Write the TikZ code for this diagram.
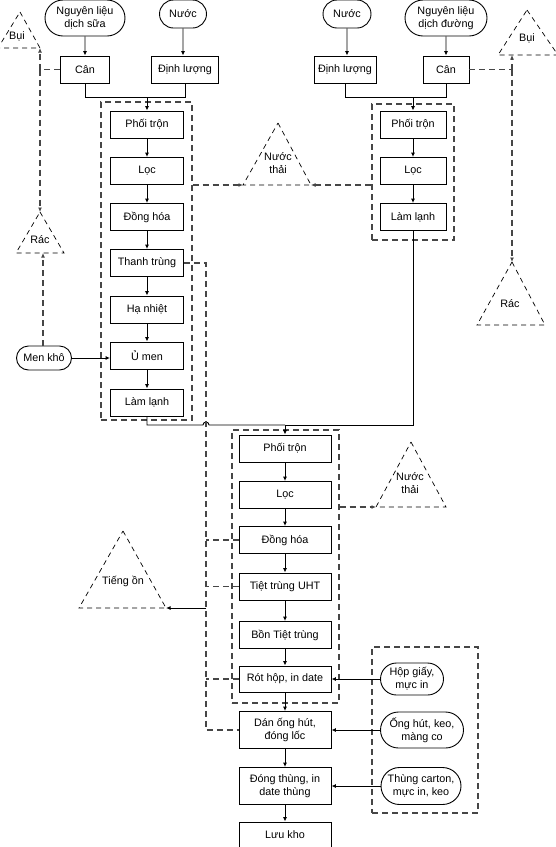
\documentclass[tikz,border=0pt]{standalone}
\usepackage{fontspec}
\setmainfont{Liberation Sans}
\usepackage{xcolor}
\definecolor{flgray}{RGB}{70,70,70}
\usetikzlibrary{arrows.meta, shapes.misc, calc}

\tikzset{
  proc/.style={draw, rectangle, line width=0.9pt, minimum width=73pt, minimum height=27pt, inner sep=1pt, align=center},
  term/.style={draw, rounded rectangle, line width=0.9pt, inner sep=1pt, align=center},
  grp/.style={draw=flgray, line width=1.2pt, dash pattern=on 6pt off 4pt, inner sep=0pt},
  waste/.style={line width=0.7pt, dash pattern=on 5pt off 4pt},
  flow/.style={-{Latex[length=4.5pt,width=4pt]}, line width=0.9pt},
  dflow/.style={flgray, line width=1.2pt, dash pattern=on 6pt off 4pt},
  dflowa/.style={dflow, -{Latex[length=4.5pt,width=4pt]}}
}

\begin{document}
\begin{tikzpicture}[x=1pt, y=-1pt, font=\fontsize{10.8}{13}\selectfont]
  \useasboundingbox (0,0) rectangle (556,847);

  % Group boxes
  \node[grp, minimum width=91pt,  minimum height=318pt] (g1) at (146.5,261) {};
  \node[grp, minimum width=82pt,  minimum height=136pt] (g2) at (413,172) {};
  \node[grp, minimum width=107pt, minimum height=273pt] (g3) at (285.5,566.5) {};
  \node[grp, minimum width=106pt, minimum height=166pt] (g4) at (425,730) {};

  % --- Milk line (left) ---
  \node[term, minimum width=82pt, minimum height=36pt] (srcsua) at (85,18) {Nguyên liệu\\dịch sữa};
  \node[term, minimum width=49pt, minimum height=28pt] (nuoc1) at (183,14) {Nước};
  \node[proc, minimum width=49pt] (can1) at (85,69.5) {Cân};
  \node[proc, minimum width=67pt] (dl1) at (185,69.5) {Định lượng};
  \node[proc] (ptron1) at (147,124.5) {Phối trộn};
  \node[proc] (loc1) at (147,171) {Lọc};
  \node[proc] (dh1) at (147,217) {Đồng hóa};
  \node[proc] (tt1) at (147,263) {Thanh trùng};
  \node[proc] (hn1) at (147,309.5) {Hạ nhiệt};
  \node[proc] (umen) at (147,355.5) {Ủ men};
  \node[proc] (ll1) at (147,402.5) {Làm lạnh};
  \node[term, minimum width=57pt, minimum height=24pt] (menkho) at (44,358) {Men khô};
  \coordinate (jn1) at (147,97);

  % --- Sugar line (right) ---
  \node[term, minimum width=50pt, minimum height=28pt] (nuoc2) at (347,14) {Nước};
  \node[term, minimum width=84pt, minimum height=36pt] (srcduong) at (446,18) {Nguyên liệu\\dịch đường};
  \node[proc, minimum width=62pt] (dl2) at (345,69.5) {Định lượng};
  \node[proc, minimum width=46pt] (can2) at (446,69.5) {Cân};
  \node[proc, minimum width=66pt] (ptron2) at (413,124.5) {Phối trộn};
  \node[proc, minimum width=66pt] (loc2) at (413,171) {Lọc};
  \node[proc, minimum width=66pt] (ll2) at (413,217) {Làm lạnh};
  \coordinate (jn2) at (413,97);

  % --- Main line (bottom) ---
  \node[proc, minimum width=92pt] (ptron3) at (285,448.5) {Phối trộn};
  \node[proc, minimum width=92pt] (loc3) at (285,495) {Lọc};
  \node[proc, minimum width=92pt] (dh3) at (285,540) {Đồng hóa};
  \node[proc, minimum width=92pt] (uht) at (285,586.5) {Tiệt trùng UHT};
  \node[proc, minimum width=92pt] (bon) at (285,635) {Bồn Tiệt trùng};
  \node[proc, minimum width=92pt, minimum height=26pt] (rot) at (285,679) {Rót hộp, in date};
  \node[proc, minimum width=92pt, minimum height=37pt] (dan) at (285,730) {Dán ống hút,\\đóng lốc};
  \node[proc, minimum width=92pt, minimum height=37pt] (dong) at (285,786) {Đóng thùng, in\\date thùng};
  \node[proc, minimum width=92pt, minimum height=25pt] (luukho) at (285,834.5) {Lưu kho};
  \coordinate (jn3) at (285,425);

  % Packaging materials
  \node[term, minimum width=65pt, minimum height=32pt] (hopgiay) at (412,679) {Hộp giấy,\\mực in};
  \node[term, minimum width=85pt, minimum height=36pt] (onghut) at (422,730) {Ống hút, keo,\\màng co};
  \node[term, minimum width=82pt, minimum height=37pt] (thung) at (421,786) {Thùng carton,\\mực in, keo};

  % --- Waste triangles ---
  \draw[waste] (20,12) -- (40,48) -- (-2,48) -- cycle;
  \node (bui1) at (17,36) {Bụi};
  \coordinate (bui1b) at (40,48);
  \draw[waste] (40,212) -- (64,253) -- (16,253) -- cycle;
  \node (rac1) at (40,240) {Rác};
  \coordinate (rac1t) at (40,212);
  \coordinate (rac1b) at (43,253);
  \draw[waste] (527,10) -- (558,55) -- (498,55) -- cycle;
  \node (bui2) at (527,38) {Bụi};
  \coordinate (bui2b) at (512,55);
  \draw[waste] (512,262) -- (545,325) -- (477,325) -- cycle;
  \node (rac2) at (510,304) {Rác};
  \coordinate (rac2t) at (512,262);
  \draw[waste] (278,123) -- (311,185) -- (243,185) -- cycle;
  \node[align=center] (nt1) at (278,163) {Nước\\thải};
  \coordinate (nt1l) at (243,185);
  \coordinate (nt1r) at (311,185);
  \draw[waste] (411,442) -- (446,507) -- (376,507) -- cycle;
  \node[align=center] (nt2) at (410,483) {Nước\\thải};
  \coordinate (nt2l) at (376,507);
  \draw[waste] (123,531) -- (166,608) -- (79,608) -- cycle;
  \node (tiengon) at (123,581) {Tiếng ồn};
  \coordinate (tiengonb) at (166,608);

  % Solid flows
  \draw[flow] (srcsua) -- (can1);
  \draw[flow] (nuoc1) -- (nuoc1 |- dl1.north);
  \draw[line width=0.9pt] (can1.south) |- (jn1);
  \draw[line width=0.9pt] (dl1.south) |- (jn1);
  \draw[flow] (jn1) -- (ptron1);
  \foreach \a/\b in {ptron1/loc1, loc1/dh1, dh1/tt1, tt1/hn1, hn1/umen, umen/ll1}
    \draw[flow] (\a) -- (\b);
  \draw[flow] (menkho.east) -- (menkho.east -| umen.west);

  \draw[flow] (nuoc2) -- (nuoc2 |- dl2.north);
  \draw[flow] (srcduong) -- (can2);
  \draw[line width=0.9pt] (dl2.south) |- (jn2);
  \draw[line width=0.9pt] (can2.south) |- (jn2);
  \draw[flow] (jn2) -- (ptron2);
  \draw[flow] (ptron2) -- (loc2);
  \draw[flow] (loc2) -- (ll2);

  \coordinate (dv) at (206,0);
  \draw[line width=0.9pt] (ll1.south) |- ($(dv |- jn3)+(-3,0)$) arc[start angle=180, end angle=360, radius=3] -- (jn3);
  \draw[line width=0.9pt] (ll2.south) |- (jn3);
  \draw[flow] (jn3) -- (ptron3);
  \foreach \a/\b in {ptron3/loc3, loc3/dh3, dh3/uht, uht/bon, bon/rot, rot/dan, dan/dong, dong/luukho}
    \draw[flow] (\a) -- (\b);
  \draw[flow] (hopgiay.west) -- (hopgiay.west -| rot.east);
  \draw[flow] (onghut.west) -- (onghut.west -| dan.east);
  \draw[flow] (thung.west) -- (thung.west -| dong.east);
  \draw[flow] (dv |- tiengonb) -- (tiengonb);

  % Dashed waste flows
  \draw[dflow] (can1.west) -- (can1.west -| bui1b);
  \draw[dflowa] (can1.west -| bui1b) -- (bui1b);
  \draw[dflowa] (can1.west -| bui1b) -- (rac1t);
  \draw[dflowa] (menkho.north -| rac1b) -- (rac1b);
  \draw[dflow] (can2.east) -- (can2.east -| bui2b);
  \draw[dflowa] (can2.east -| bui2b) -- (bui2b);
  \draw[dflowa] (can2.east -| bui2b) -- (rac2t);
  \draw[dflowa] (g1.east |- nt1l) -- (nt1l);
  \draw[dflowa] (g2.west |- nt1r) -- (nt1r);
  \draw[dflowa] (g3.east |- nt2l) -- (nt2l);
  \draw[dflow] (tt1.east) -- (tt1.east -| dv) -- (dan.west -| dv) -- (dan.west);
  \draw[dflow] (dh3.west) -- (dh3.west -| dv);
  \draw[dflow] (uht.west) -- (uht.west -| dv);
  \draw[dflow] (rot.west) -- (rot.west -| dv);
\end{tikzpicture}
\end{document}
